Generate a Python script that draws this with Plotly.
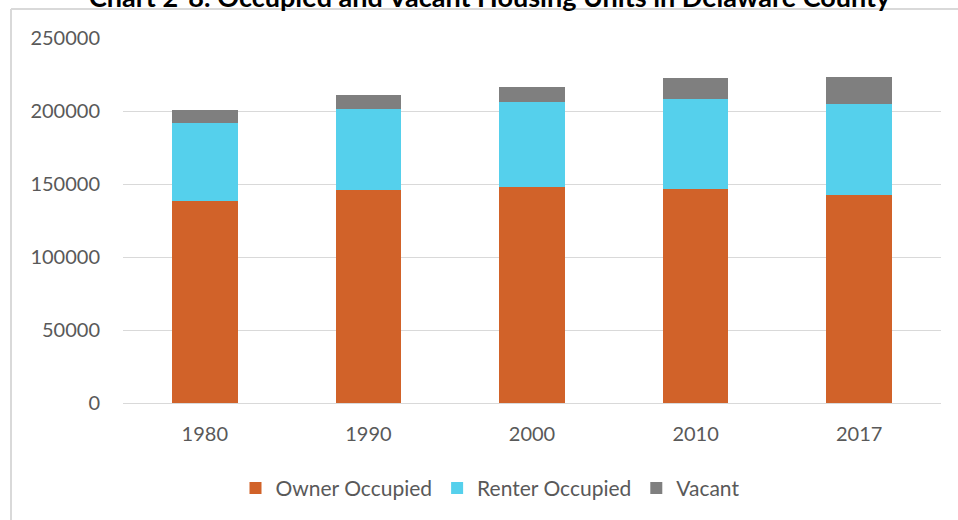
import plotly.graph_objects as go

years = ["1980", "1990", "2000", "2010", "2017"]
owner_occupied = [138500, 146200, 148000, 146900, 142400]
renter_occupied = [53600, 54900, 57900, 61300, 62100]
vacant = [8800, 9600, 10700, 14100, 18900]

title_text = "Chart 2-8: Occupied and Vacant Housing Units in Delaware County"

W, H = 958, 520
L, R, T, B = 123, 17, 38, 115.5
PW, PH = W - L - R, H - T - B


def px_x(x):
    return (x - L) / PW


def px_y(y):
    return (H - B - y) / PH


fig = go.Figure()
fig.add_trace(go.Bar(name="Owner Occupied", x=years, y=owner_occupied, marker_color="#D16229"))
fig.add_trace(go.Bar(name="Renter Occupied", x=years, y=renter_occupied, marker_color="#55D0EC"))
fig.add_trace(go.Bar(name="Vacant", x=years, y=vacant, marker_color="#7F7F7F"))

fig.update_traces(marker_line_width=0)

fig.update_layout(
    width=W,
    height=H,
    barmode="stack",
    bargap=0.6,
    paper_bgcolor="white",
    plot_bgcolor="white",
    font={"family": "Lato, Carlito, sans-serif", "size": 20, "color": "#595959"},
    margin={"l": L, "r": R, "t": T, "b": B, "pad": 0},
    showlegend=True,
    legend={
        "orientation": "h",
        "x": px_x(490),
        "xanchor": "center",
        "y": px_y(489),
        "yanchor": "middle",
        "font": {"size": 21, "color": "#595959"},
        "itemwidth": 30,
        "traceorder": "normal",
    },
    xaxis={
        "showgrid": False,
        "showline": True,
        "linecolor": "#D9D9D9",
        "linewidth": 1,
        "ticks": "",
        "ticklabelstandoff": 13,
        "tickfont": {"size": 20, "color": "#595959"},
    },
    yaxis={
        "range": [0, 250000],
        "tickvals": [0, 50000, 100000, 150000, 200000, 250000],
        "ticktext": ["0", "50000", "100000", "150000", "200000", "250000"],
        "showgrid": True,
        "gridcolor": "#D9D9D9",
        "gridwidth": 1,
        "zeroline": False,
        "ticks": "",
        "ticklabelstandoff": 22,
        "tickfont": {"size": 20, "color": "#595959"},
    },
    annotations=[
        {
            "text": "<b>" + title_text + "</b>",
            "xref": "paper",
            "yref": "paper",
            "x": px_x(490),
            "y": px_y(-3.6),
            "xanchor": "center",
            "yanchor": "middle",
            "showarrow": False,
            "font": {"size": 27, "color": "#000000"},
        }
    ],
    shapes=[
        {
            "type": "line",
            "xref": "paper",
            "yref": "paper",
            "x0": px_x(11),
            "x1": px_x(980),
            "y0": px_y(9),
            "y1": px_y(9),
            "line": {"color": "#D9D9D9", "width": 2},
        },
        {
            "type": "line",
            "xref": "paper",
            "yref": "paper",
            "x0": px_x(11),
            "x1": px_x(11),
            "y0": px_y(9),
            "y1": px_y(540),
            "line": {"color": "#D9D9D9", "width": 2},
        },
    ],
)

fig.write_html(
    "out.html",
    config={"displayModeBar": False},
    post_script="document.body.style.margin='0';",
)
